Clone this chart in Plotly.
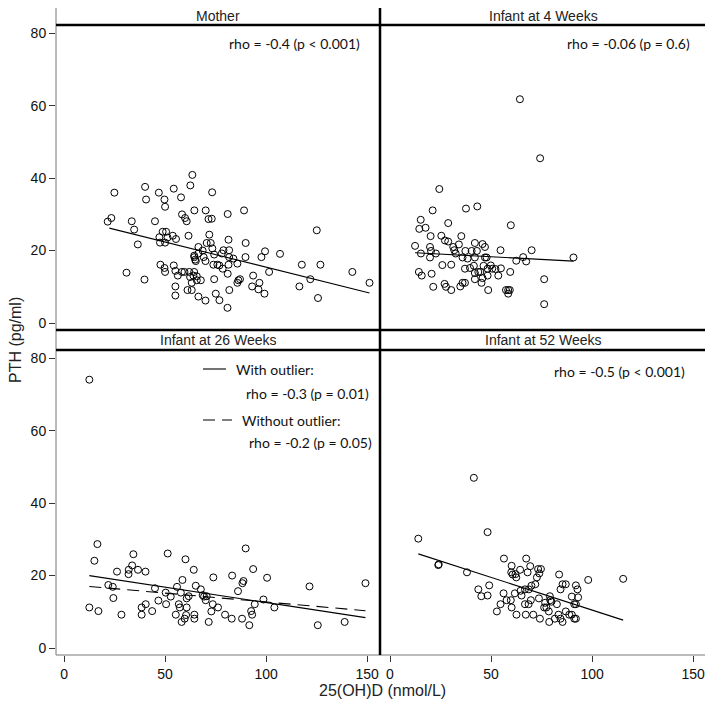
import plotly.graph_objects as go

# ---------------- data ----------------
mother_x = [24.9, 21.6, 23.4, 30.9, 33.5, 34.7, 36.5, 39.8, 40.1, 40.6, 45.0, 46.9, 49.7, 50.0,
            47.2, 47.5, 48.8, 50.5, 50.0, 51.2, 53.8, 55.4, 47.7, 49.7, 50.0, 54.3, 57.9,
            54.3, 55.1, 56.3, 58.3, 59.6, 55.1, 55.1, 58.4, 59.9, 60.7, 61.6, 62.5, 63.5, 64.5,
            62.0, 64.4, 62.4, 64.0, 65.7, 63.2, 65.7, 67.7, 61.1, 63.2,
            64.4, 64.9, 65.2, 64.5, 66.5, 66.5, 68.6, 70.0, 69.1, 70.1, 71.5, 73.1, 73.3,
            70.6, 71.9, 72.6, 73.4, 66.5, 70.0, 74.3, 73.9, 75.9, 76.9, 74.3, 75.1, 76.9,
            78.1, 78.9, 78.5, 81.0, 81.4, 81.7, 81.7, 81.4, 81.0, 81.8, 80.9, 83.8, 85.8,
            86.3, 87.1, 85.8, 89.1, 89.9, 89.8, 93.6, 93.1, 96.2, 96.7, 97.7, 99.5, 99.2,
            101.5, 106.9, 116.5, 117.7, 121.9, 125.1, 125.7, 126.9, 142.7, 151.2]
mother_y = [36.0, 28.0, 29.0, 13.9, 28.1, 25.8, 21.7, 12.0, 37.6, 34.1, 28.1, 36.0, 34.1, 32.1,
            23.7, 22.2, 25.2, 25.2, 22.2, 23.6, 24.1, 23.2, 16.1, 15.2, 14.1, 37.1, 34.7,
            15.9, 14.4, 13.1, 14.1, 14.1, 10.1, 7.6, 30.0, 29.0, 28.1, 24.1, 38.0, 40.9, 31.1,
            14.1, 14.1, 12.7, 13.1, 12.9, 11.1, 11.8, 11.8, 9.1, 9.1,
            18.6, 17.5, 17.1, 18.2, 21.0, 19.2, 20.0, 17.1, 18.2, 31.1, 28.7, 28.8, 36.1,
            22.1, 24.4, 22.1, 20.6, 7.3, 6.2, 18.9, 16.1, 16.1, 15.9, 12.1, 8.1, 6.3,
            19.2, 20.1, 15.0, 30.1, 23.0, 20.1, 18.2, 16.1, 13.6, 9.1, 4.2, 17.8, 16.4,
            11.8, 12.1, 11.1, 31.1, 22.1, 18.2, 13.1, 10.1, 9.3, 11.1, 18.2, 19.8, 8.1,
            14.1, 19.1, 10.1, 16.1, 12.1, 25.6, 6.9, 16.1, 14.1, 11.1]
mother_fit_x = [22.4, 151.2]
mother_fit_y = [26.2, 8.3]

w4_x = [64.3, 74.3, 24.4, 21.1, 37.6, 43.2, 15.2, 14.5, 17.6, 28.8, 59.8, 20.1, 25.4, 27.2,
        28.8, 35.3, 34.1, 31.3, 31.8, 32.5, 12.4, 15.3, 19.8, 20.3, 19.8, 22.7, 37.3, 40.4,
        42.0, 43.0, 45.8, 47.0, 35.9, 38.4, 42.0, 47.0, 47.8, 54.7, 70.1, 65.9, 62.5, 67.4,
        90.8, 25.9, 30.3, 37.1, 39.6, 41.5, 42.0, 43.7, 44.7, 46.3, 48.3, 49.9, 50.6, 52.2,
        54.9, 48.3, 45.8, 42.0, 53.6, 59.5, 14.3, 15.7, 20.6, 27.0, 27.7, 21.4, 30.3, 34.8,
        35.9, 37.1, 45.3, 48.6, 57.4, 58.5, 59.3, 58.5, 76.3, 76.3]
w4_y = [61.8, 45.5, 37.0, 31.1, 31.6, 32.2, 28.5, 26.0, 26.3, 27.6, 27.0, 24.0, 24.1, 22.8,
        22.5, 24.0, 21.7, 21.0, 20.1, 19.2, 21.3, 19.2, 21.0, 19.9, 18.1, 19.2, 19.9, 19.9,
        22.1, 19.9, 21.8, 21.0, 18.1, 17.8, 18.1, 18.1, 18.1, 20.1, 20.1, 18.2, 17.2, 17.0,
        18.1, 16.0, 16.1, 15.0, 15.2, 15.8, 13.8, 14.1, 14.1, 15.8, 15.0, 15.9, 15.0, 14.9,
        15.1, 13.1, 12.4, 12.1, 13.1, 14.1, 14.1, 13.1, 13.6, 10.8, 10.0, 10.0, 9.1, 10.1,
        11.1, 11.1, 11.1, 9.1, 9.1, 9.1, 9.1, 8.1, 12.1, 5.2]
w4_fit_x = [12.4, 90.8]
w4_fit_y = [19.4, 17.1]

w26_x = [12.5, 16.5, 15.0, 34.3, 33.7, 32.0, 31.9, 36.6, 40.3, 26.2, 21.9, 24.1, 24.4, 12.5,
         17.0, 28.4, 38.4, 40.4, 38.4, 43.6, 45.0, 46.7, 50.3, 50.5, 52.8, 51.3, 55.3, 55.9,
         57.8, 58.6, 56.8, 57.3, 60.1, 60.7, 60.7, 61.7, 60.4, 59.7, 58.2, 64.2, 65.2, 64.5,
         64.5, 67.7, 68.6, 69.3, 70.1, 70.6, 73.9, 73.6, 72.9, 76.2, 71.6, 79.7, 83.0, 83.2,
         86.1, 88.3, 88.8, 88.1, 89.9, 91.7, 92.6, 93.1, 93.6, 94.4, 98.7, 100.5, 104.1,
         121.5, 125.6, 138.9, 149.2]
w26_y = [74.1, 28.7, 24.1, 25.9, 22.8, 21.6, 20.4, 21.6, 21.1, 21.1, 17.4, 16.9, 13.8, 11.2,
         10.2, 9.2, 11.2, 12.1, 9.2, 10.2, 16.5, 13.1, 15.3, 12.1, 14.2, 26.1, 9.2, 16.9,
         15.3, 18.8, 12.1, 11.2, 24.5, 11.2, 13.7, 14.3, 9.1, 8.1, 7.2, 21.6, 17.2, 9.2,
         8.1, 16.2, 14.6, 14.2, 13.2, 14.3, 19.5, 12.1, 10.1, 11.2, 7.2, 9.2, 8.1, 20.0,
         15.7, 17.9, 18.5, 8.1, 27.5, 6.3, 10.2, 9.2, 21.8, 12.1, 13.4, 19.4, 11.2,
         17.0, 6.3, 7.2, 17.9]
w26_fit_x = [12.5, 149.2]
w26_fit_y = [20.0, 8.4]
w26_fit2_x = [12.5, 149.2]
w26_fit2_y = [17.0, 10.3]

w52_x = [41.5, 48.3, 14.0, 24.1, 23.9, 38.1, 43.7, 45.2, 48.3, 49.1, 56.4, 60.2, 60.0, 60.7,
         62.1, 62.5, 64.4, 67.4, 69.4, 68.1, 73.3, 74.7, 73.9, 72.7, 71.9, 70.0, 68.7, 66.8,
         64.6, 65.1, 61.8, 56.2, 57.7, 59.8, 60.2, 54.7, 52.9, 62.6, 67.2, 70.9, 66.8, 68.6,
         69.7, 73.7, 74.2, 76.8, 76.3, 77.4, 78.6, 79.3, 79.1, 79.9, 82.6, 78.8, 81.6, 83.7,
         85.4, 87.0, 84.4, 83.4, 84.4, 85.4, 87.0, 88.7, 90.0, 91.2, 92.0, 90.0, 91.2, 92.0,
         93.1, 92.0, 92.8, 98.1, 115.4]
w52_y = [47.0, 32.0, 30.2, 23.1, 22.9, 20.9, 16.2, 14.3, 14.5, 17.3, 24.7, 22.7, 20.9, 20.3,
         20.4, 19.5, 21.6, 24.7, 22.6, 20.9, 21.8, 21.8, 20.6, 19.5, 17.6, 17.2, 16.2, 16.2,
         15.8, 14.5, 15.1, 15.1, 13.2, 13.2, 11.2, 12.1, 10.1, 9.2, 9.2, 9.2, 12.1, 12.1,
         13.2, 13.7, 8.1, 12.5, 11.2, 11.2, 10.1, 13.2, 14.3, 12.8, 12.1, 7.2, 8.1, 20.3,
         17.6, 17.6, 16.2, 9.2, 8.1, 7.2, 10.1, 9.2, 9.2, 8.1, 8.1, 14.2, 12.1, 12.1,
         14.0, 17.3, 16.2, 18.8, 19.1]
w52_fit_x = [14.0, 115.4]
w52_fit_y = [26.0, 7.7]

panel_titles = ["Mother", "Infant at 4 Weeks", "Infant at 26 Weeks", "Infant at 52 Weeks"]
rho_texts = ["rho = -0.4 (p < 0.001)", "rho = -0.06 (p = 0.6)", "", "rho = -0.5 (p < 0.001)"]
legend_texts = ["With outlier:", "rho = -0.3 (p = 0.01)", "Without outlier:", "rho = -0.2 (p = 0.05)"]
x_ticks = [0, 50, 100, 150]
y_ticks = [0, 20, 40, 60, 80]
x_title = "25(OH)D (nmol/L)"
y_title = "PTH (pg/ml)"

# ---------------- figure ----------------
# the page body has an 8px margin, so the figure is placed at (8, 8) in the window
OFF = 8
W, H = 713 - OFF, 715 - OFF
def px(x):
    return (x - OFF) / W
def py(y):
    return 1 - (y - OFF) / H

fig = go.Figure()

marker = dict(symbol="circle-open", size=7, color="black", line=dict(width=1, color="black"))
sets = [
    (mother_x, mother_y, "x", "y"),
    (w4_x, w4_y, "x2", "y2"),
    (w26_x, w26_y, "x3", "y3"),
    (w52_x, w52_y, "x4", "y4"),
]
for xs, ys, xa, ya in sets:
    fig.add_trace(go.Scatter(x=xs, y=ys, mode="markers", marker=marker,
                             xaxis=xa, yaxis=ya, showlegend=False, hoverinfo="skip"))

fits = [
    (mother_fit_x, mother_fit_y, "x", "y", "solid"),
    (w4_fit_x, w4_fit_y, "x2", "y2", "solid"),
    (w26_fit_x, w26_fit_y, "x3", "y3", "solid"),
    (w26_fit2_x, w26_fit2_y, "x3", "y3", "12px,7px"),
    (w52_fit_x, w52_fit_y, "x4", "y4", "solid"),
]
for xs, ys, xa, ya, dash in fits:
    fig.add_trace(go.Scatter(x=xs, y=ys, mode="lines", line=dict(color="black", width=1.1, dash=dash),
                             xaxis=xa, yaxis=ya, showlegend=False, hoverinfo="skip"))

# panel geometry (window pixels)
LEFT, MID, RIGHT = 56, 380, 706
TOP_STRIP, TOP_PLOT, TOP_BOTTOM = 7, 25, 330
BOT_PLOT, BOT_BOTTOM = 350, 655

xdom_l = [px(LEFT), px(MID)]
xdom_r = [px(MID), px(RIGHT)]
ydom_t = [py(TOP_BOTTOM), py(TOP_PLOT)]
ydom_b = [py(BOT_BOTTOM), py(BOT_PLOT)]

tickfont = dict(family="Liberation Sans, Arial, sans-serif", size=14, color="#111")
yrange = [-1.93, 82.3]
common = dict(showgrid=False, zeroline=False, showline=False, fixedrange=True, automargin=False,
              ticklabeloverflow="allow")

def xax(dom, rng, show, anchor):
    return dict(domain=dom, range=rng, anchor=anchor, tickvals=x_ticks,
                showticklabels=show, ticks="outside" if show else "", ticklen=6,
                tickcolor="#333", tickfont=tickfont, **common)

def yax(dom, show, anchor):
    return dict(domain=dom, range=yrange, anchor=anchor, tickvals=y_ticks,
                showticklabels=show, ticks="outside" if show else "", ticklen=6,
                tickcolor="#333", tickfont=tickfont, **common)

fig.update_layout(
    width=W, height=H,
    margin=dict(l=0, r=0, t=0, b=0),
    paper_bgcolor="white", plot_bgcolor="white",
    xaxis=xax(xdom_l, [-4, 156.4], False, "y"),
    yaxis=yax(ydom_t, True, "x"),
    xaxis2=xax(xdom_r, [-4.95, 156.4], False, "y2"),
    yaxis2=yax(ydom_t, False, "x2"),
    xaxis3=xax(xdom_l, [-4, 156.4], True, "y3"),
    yaxis3=yax(ydom_b, True, "x3"),
    xaxis4=xax(xdom_r, [-4.95, 156.4], True, "y4"),
    yaxis4=yax(ydom_b, False, "x4"),
)

shapes = []
def line(x0, y0, x1, y1, color, width, dash="solid"):
    shapes.append(dict(type="line", xref="paper", yref="paper",
                       x0=px(x0), y0=py(y0), x1=px(x1), y1=py(y1),
                       line=dict(color=color, width=width, dash=dash)))

gray = "#777"
line(LEFT, TOP_STRIP, RIGHT, TOP_STRIP, gray, 1)
line(LEFT, BOT_BOTTOM, RIGHT, BOT_BOTTOM, gray, 1)
line(LEFT, TOP_STRIP, LEFT, BOT_BOTTOM, gray, 1)
line(RIGHT, TOP_STRIP, RIGHT, BOT_BOTTOM, gray, 1)
line(LEFT, TOP_PLOT, RIGHT, TOP_PLOT, "black", 2.5)
line(LEFT, TOP_BOTTOM, RIGHT, TOP_BOTTOM, "black", 2.5)
line(LEFT, BOT_PLOT, RIGHT, BOT_PLOT, "black", 2.5)
line(MID, TOP_STRIP, MID, BOT_BOTTOM, "black", 2.5)
# legend samples in the 26-week panel
line(203, 369, 226, 369, "black", 1.1)
line(203, 420, 232, 420, "black", 1.1, "12px,7px")
fig.update_layout(shapes=shapes)

ann = []
stripfont = dict(family="Liberation Sans, Arial, sans-serif", size=14, color="#222")
centers = [((LEFT + MID) / 2, (TOP_STRIP + TOP_PLOT) / 2), ((MID + RIGHT) / 2, (TOP_STRIP + TOP_PLOT) / 2),
           ((LEFT + MID) / 2, (TOP_BOTTOM + BOT_PLOT) / 2), ((MID + RIGHT) / 2, (TOP_BOTTOM + BOT_PLOT) / 2)]
for t, (cx, cy) in zip(panel_titles, centers):
    ann.append(dict(text=t, x=px(cx), y=py(cy), xref="paper", yref="paper", showarrow=False,
                    xanchor="center", yanchor="middle", font=stripfont))

rhofont = dict(family="Lato, Open Sans, sans-serif", size=14, color="#111")
rho_pos = [(362, 43), (692, 43), None, (687, 371)]
for t, pos in zip(rho_texts, rho_pos):
    if pos is None:
        continue
    ann.append(dict(text=t, x=px(pos[0]), y=py(pos[1]), xref="paper", yref="paper", showarrow=False,
                    xanchor="right", yanchor="middle", font=rhofont))

leg_pos = [(234, 369), (244, 393), (240, 420), (247, 442)]
for t, pos in zip(legend_texts, leg_pos):
    ann.append(dict(text=t, x=px(pos[0]), y=py(pos[1]), xref="paper", yref="paper", showarrow=False,
                    xanchor="left", yanchor="middle", font=rhofont))

titlefont = dict(family="Liberation Sans, Arial, sans-serif", size=16, color="#222")
ann.append(dict(text=x_title, x=px(382), y=py(690), xref="paper", yref="paper", showarrow=False,
                xanchor="center", yanchor="middle", font=titlefont))
ann.append(dict(text=y_title, x=px(15), y=py(340), xref="paper", yref="paper", showarrow=False,
                xanchor="center", yanchor="middle", textangle=-90, font=titlefont))
fig.update_layout(annotations=ann)

fig.write_html("out.html")
